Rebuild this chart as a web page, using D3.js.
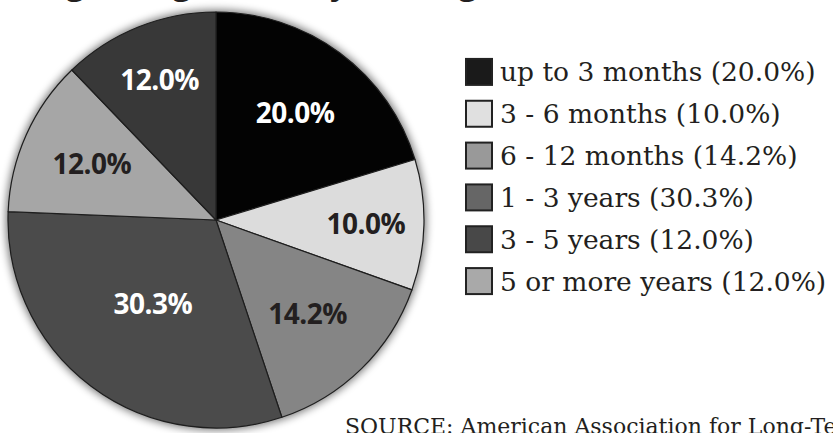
<!DOCTYPE html>
<html>
<head>
<meta charset="utf-8">
<script src="https://cdn.jsdelivr.net/npm/d3@7"></script>
<style>
  body { margin: 0; background: #fff; }
  svg { display: block; }
</style>
</head>
<body>
<svg id="chart" width="833" height="433"></svg>
<script>
// slices in pie order (clockwise from 12 o'clock)
let slices = ["up to 3 months", "3 - 6 months", "6 - 12 months", "1 - 3 years", "5 or more years", "3 - 5 years"]
let shares = [20.0, 10.0, 14.2, 30.3, 12.0, 12.0]
// legend order
let legendItems = ["up to 3 months", "3 - 6 months", "6 - 12 months", "1 - 3 years", "3 - 5 years", "5 or more years"]
let title = "Average Length of Stay in Long-Term Care"
let source = "SOURCE: American Association for Long-Term Care Insurance"

let sliceFill = {
  "up to 3 months": "#030303",
  "3 - 6 months": "#dcdcdc",
  "6 - 12 months": "#858585",
  "1 - 3 years": "#4b4b4b",
  "5 or more years": "#a6a6a6",
  "3 - 5 years": "#383838"
}
let keyFill = {
  "up to 3 months": "#1a1a1a",
  "3 - 6 months": "#e0e0e0",
  "6 - 12 months": "#999999",
  "1 - 3 years": "#666666",
  "3 - 5 years": "#484848",
  "5 or more years": "#a9a9a9"
}
let labelInk = {
  "up to 3 months": "#fff",
  "3 - 6 months": "#231f20",
  "6 - 12 months": "#231f20",
  "1 - 3 years": "#fff",
  "5 or more years": "#231f20",
  "3 - 5 years": "#fff"
}
// label distance from centre, per slice
let labelR = [133, 150, 131, 105, 136, 151]

let svg = d3.select("#chart")
let cx = 216, cy = 220, R = 208

let fmt = d3.format(".1f")

// title, mostly cropped off the top
svg.append("text")
  .attr("x", -30)
  .attr("y", -6)
  .attr("font-family", "Open Sans, sans-serif")
  .attr("font-weight", 700)
  .attr("font-size", 33)
  .attr("fill", "#231f20")
  .text(title)

// soft shadow round the pie
let defs = svg.append("defs")
defs.append("filter").attr("id", "blur")
  .attr("x", "-20%").attr("y", "-20%").attr("width", "140%").attr("height", "140%")
  .append("feGaussianBlur").attr("stdDeviation", 4)

let pieData = slices.map((s, i) => ({name: s, value: shares[i], i: i}))
let pie = d3.pie().sort(null).value(d => d.value)
let arcs = pie(pieData)
let arc = d3.arc().innerRadius(0).outerRadius(R)

let g = svg.append("g").attr("transform", `translate(${cx},${cy})`)

g.append("circle")
  .attr("r", R + 2)
  .attr("fill", "#000")
  .attr("opacity", 0.55)
  .attr("filter", "url(#blur)")

g.selectAll("path.slice")
  .data(arcs).enter()
  .append("path")
  .attr("class", "slice")
  .attr("d", arc)
  .attr("fill", d => sliceFill[d.data.name])
  .attr("stroke", "#1e1e1e")
  .attr("stroke-width", 1.2)
  .attr("stroke-linejoin", "round")

g.selectAll("text.lbl")
  .data(arcs).enter()
  .append("text")
  .attr("class", "lbl")
  .attr("transform", d => {
    let r = labelR[d.data.i]
    let c = d3.arc().innerRadius(r).outerRadius(r).centroid(d)
    return `translate(${c[0]},${c[1]})`
  })
  .attr("text-anchor", "middle")
  .attr("dy", "0.36em")
  .attr("font-family", "Open Sans, sans-serif")
  .attr("font-weight", 700)
  .attr("font-size", 28)
  .attr("letter-spacing", -0.5)
  .attr("fill", d => labelInk[d.data.name])
  .text(d => fmt(d.data.value) + "%")

// legend
let y = d3.scaleBand().domain(legendItems).range([51, 302]).paddingInner(0)
let legend = svg.append("g")
let row = legend.selectAll("g")
  .data(legendItems).enter()
  .append("g")
  .attr("transform", d => `translate(466,${y(d) + y.bandwidth() / 2})`)

row.append("rect")
  .attr("x", 0).attr("y", -13)
  .attr("width", 26).attr("height", 26)
  .attr("fill", d => keyFill[d])
  .attr("stroke", "#222")
  .attr("stroke-width", 2)

row.append("text")
  .attr("x", 34)
  .attr("y", 0)
  .attr("dy", "0.36em")
  .attr("font-family", "DejaVu Serif, serif")
  .attr("font-size", 26.5)
  .attr("fill", "#231f20")
  .text(d => d + " (" + fmt(shares[slices.indexOf(d)]) + "%)")

svg.append("text")
  .attr("x", 345)
  .attr("y", 434)
  .attr("font-family", "DejaVu Serif, serif")
  .attr("font-size", 22)
  .attr("fill", "#231f20")
  .text(source)
</script>
</body>
</html>
